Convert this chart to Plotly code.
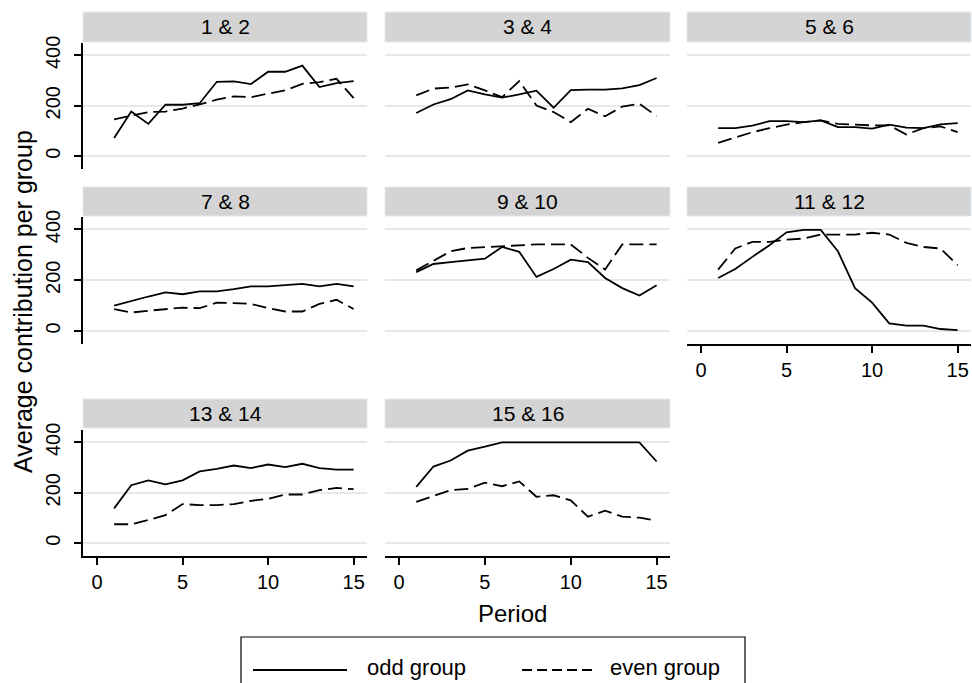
import plotly.graph_objects as go

W, H = 972, 683

periods = list(range(1, 16))
panel_titles = ["1 & 2", "3 & 4", "5 & 6", "7 & 8", "9 & 10", "11 & 12", "13 & 14", "15 & 16"]

odd_1_2 = [72, 177, 128, 204, 204, 210, 295, 297, 286, 335, 335, 359, 274, 290, 298]
even_1_2 = [146, 162, 175, 177, 189, 205, 224, 237, 234, 248, 261, 287, 294, 307, 230]
odd_3_4 = [171, 205, 226, 261, 245, 232, 245, 260, 192, 262, 264, 264, 269, 282, 310]
even_3_4 = [241, 268, 272, 285, 261, 234, 298, 201, 175, 135, 188, 158, 197, 208, 159]
odd_5_6 = [111, 111, 121, 139, 139, 135, 142, 115, 115, 109, 125, 113, 111, 126, 131]
even_5_6 = [53, 75, 95, 111, 125, 135, 142, 128, 125, 122, 122, 86, 111, 118, 95]
odd_7_8 = [100, 119, 136, 152, 145, 156, 156, 165, 176, 176, 180, 186, 176, 186, 176]
even_7_8 = [86, 73, 80, 87, 92, 90, 112, 110, 107, 90, 77, 77, 107, 123, 87]
odd_9_10 = [232, 264, 271, 279, 285, 331, 312, 213, 244, 281, 271, 209, 169, 140, 180]
even_9_10 = [239, 275, 314, 327, 330, 334, 337, 341, 341, 341, 288, 242, 341, 341, 341]
odd_11_12 = [209, 244, 292, 338, 389, 398, 398, 314, 169, 112, 30, 21, 21, 8, 4]
even_11_12 = [242, 325, 351, 351, 360, 364, 380, 380, 380, 387, 380, 347, 331, 325, 259]
odd_13_14 = [138, 230, 249, 233, 249, 285, 295, 308, 298, 312, 302, 315, 298, 292, 292]
even_13_14 = [75, 75, 92, 111, 155, 151, 151, 155, 168, 176, 193, 193, 210, 219, 214]
odd_15_16 = [223, 304, 328, 367, 383, 400, 400, 400, 400, 400, 400, 400, 400, 400, 324]
even_15_16 = [164, 186, 210, 215, 240, 226, 245, 184, 190, 170, 105, 129, 105, 101, 89]

odd_series = [odd_1_2, odd_3_4, odd_5_6, odd_7_8, odd_9_10, odd_11_12, odd_13_14, odd_15_16]
even_series = [even_1_2, even_3_4, even_5_6, even_7_8, even_9_10, even_11_12, even_13_14, even_15_16]

y_ticks = [0, 200, 400]
x_ticks = [0, 5, 10, 15]
legend_labels = ["odd group", "even group"]
y_title = "Average contribution per group"
x_title = "Period"

FONT = "Liberation Sans, Arial, sans-serif"


def fx(x):
    return x / W


def fy(y):
    return 1 - y / H


col_x = [(83, 367), (385, 670), (687, 971)]
row_y = [(43, 169), (217, 344), (430, 556)]
strip_y = [(12, 42), (187, 216), (399, 428)]
positions = [(0, 0), (0, 1), (0, 2), (1, 0), (1, 1), (1, 2), (2, 0), (2, 1)]
bottom_panels = {5, 6, 7}

fig = go.Figure()
shapes = []
annotations = []
layout = {}

for i, (title, (r, c)) in enumerate(zip(panel_titles, positions)):
    n = i + 1
    xa = "xaxis" if n == 1 else f"xaxis{n}"
    ya = "yaxis" if n == 1 else f"yaxis{n}"
    xr = "x" if n == 1 else f"x{n}"
    yr = "y" if n == 1 else f"y{n}"
    x0, x1 = col_x[c]
    y0, y1 = row_y[r]
    show_x = i in bottom_panels
    show_y = c == 0
    layout[xa] = dict(
        domain=[fx(x0), fx(x1)], anchor=yr, range=[-0.82, 15.78],
        automargin=False, fixedrange=True,
        showgrid=False, zeroline=False,
        showline=show_x, linecolor="black", linewidth=1.5,
        ticks="outside" if show_x else "", ticklen=7, tickwidth=1.5, tickcolor="black",
        tickvals=x_ticks, showticklabels=show_x,
        tickfont=dict(family=FONT, size=20, color="black"),
    )
    layout[ya] = dict(
        domain=[fy(y1), fy(y0)], anchor=xr, range=[-51, 449],
        automargin=False, fixedrange=True,
        showgrid=True, gridcolor="#e8e8e8", gridwidth=1.5, zeroline=False,
        showline=show_y, linecolor="black", linewidth=1.5,
        ticks="outside" if show_y else "", ticklen=7, tickwidth=1.5, tickcolor="black",
        tickvals=y_ticks, showticklabels=show_y, tickangle=-90,
        ticklabelstandoff=6,
        tickfont=dict(family=FONT, size=20, color="black"),
    )
    fig.add_trace(go.Scatter(
        x=periods, y=odd_series[i], mode="lines", xaxis=xr, yaxis=yr,
        line=dict(color="black", width=1.8), name=legend_labels[0], showlegend=False,
    ))
    fig.add_trace(go.Scatter(
        x=periods, y=even_series[i], mode="lines", xaxis=xr, yaxis=yr,
        line=dict(color="black", width=1.8, dash="14px,6px"), name=legend_labels[1], showlegend=False,
    ))
    sy0, sy1 = strip_y[r]
    shapes.append(dict(
        type="rect", xref="paper", yref="paper",
        x0=fx(x0), x1=fx(x1), y0=fy(sy1), y1=fy(sy0),
        fillcolor="#d4d4d4", line=dict(color="#e3eaee", width=1), layer="below",
    ))
    annotations.append(dict(
        text=title, xref="paper", yref="paper",
        x=fx((x0 + x1) / 2), y=fy((sy0 + sy1) / 2),
        xanchor="center", yanchor="middle", showarrow=False,
        font=dict(family=FONT, size=21, color="black"),
    ))

# axis titles
annotations.append(dict(
    text=y_title, xref="paper", yref="paper", x=fx(23), y=fy(302),
    xanchor="center", yanchor="middle", textangle=-90, showarrow=False,
    font=dict(family=FONT, size=25, color="black"),
))
annotations.append(dict(
    text=x_title, xref="paper", yref="paper", x=fx(512), y=fy(613),
    xanchor="center", yanchor="middle", showarrow=False,
    font=dict(family=FONT, size=24, color="black"),
))

# legend box
shapes.append(dict(type="rect", xref="paper", yref="paper",
                   x0=fx(241), x1=fx(745), y0=fy(690), y1=fy(637),
                   line=dict(color="black", width=1.2), fillcolor="white"))
shapes.append(dict(type="line", xref="paper", yref="paper",
                   x0=fx(253), x1=fx(347), y0=fy(670), y1=fy(670),
                   line=dict(color="black", width=1.8)))
shapes.append(dict(type="line", xref="paper", yref="paper",
                   x0=fx(522), x1=fx(592), y0=fy(670), y1=fy(670),
                   line=dict(color="black", width=1.8, dash="10px,5px")))
annotations.append(dict(
    text=legend_labels[0], xref="paper", yref="paper", x=fx(365), y=fy(667),
    xanchor="left", yanchor="middle", showarrow=False,
    font=dict(family=FONT, size=22, color="black"),
))
annotations.append(dict(
    text=legend_labels[1], xref="paper", yref="paper", x=fx(608), y=fy(667),
    xanchor="left", yanchor="middle", showarrow=False,
    font=dict(family=FONT, size=22, color="black"),
))

fig.update_layout(
    template="none",
    width=W, height=H, margin=dict(l=0, r=0, t=0, b=0, pad=0),
    paper_bgcolor="white", plot_bgcolor="white",
    showlegend=False, shapes=shapes, annotations=annotations,
    **layout,
)

fig.write_html(
    "out.html",
    config={"displayModeBar": False},
    post_script="document.body.style.margin='0';document.body.style.overflow='hidden';",
)
